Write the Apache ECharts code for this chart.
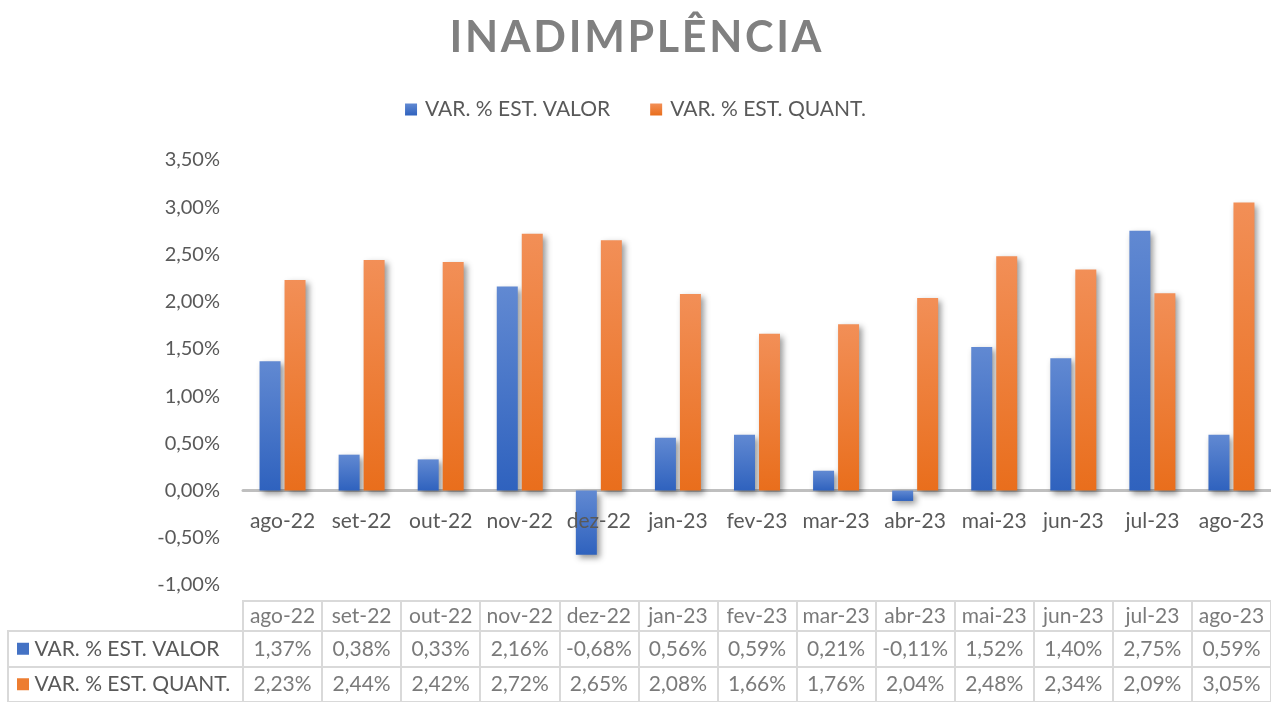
<!DOCTYPE html>
<html>
<head>
<meta charset="utf-8">
<script src="https://cdn.jsdelivr.net/npm/echarts@6/dist/echarts.min.js"></script>
<style>html,body{margin:0;padding:0;background:#fff}#c{width:1271px;height:702px}</style>
</head>
<body>
<div id="c"></div>
<script>
const categories = ['ago-22','set-22','out-22','nov-22','dez-22','jan-23','fev-23','mar-23','abr-23','mai-23','jun-23','jul-23','ago-23'];
const valorName = 'VAR. % EST. VALOR';
const quantName = 'VAR. % EST. QUANT.';
const valorValues = [1.37, 0.38, 0.33, 2.16, -0.68, 0.56, 0.59, 0.21, -0.11, 1.52, 1.40, 2.75, 0.59];
const quantValues = [2.23, 2.44, 2.42, 2.72, 2.65, 2.08, 1.66, 1.76, 2.04, 2.48, 2.34, 2.09, 3.05];
const yMin = -1, yMax = 3.5, yInterval = 0.5;

const FONT = 'Lato';
const TXT = '#595959';
const BORDER = '#D9D9D9';
const fmt = v => v.toFixed(2).replace('.', ',') + '%';
const title = 'INADIMPLÊNCIA'.split('').join('\u200A');

const blueGrad = new echarts.graphic.LinearGradient(0,0,0,1,[{offset:0,color:'#6189D2'},{offset:1,color:'#2F62BE'}]);
const orangeGrad = new echarts.graphic.LinearGradient(0,0,0,1,[{offset:0,color:'#F28F57'},{offset:1,color:'#E96E1C'}]);
const shadow = {shadowColor:'rgba(0,0,0,0.4)', shadowBlur:6, shadowOffsetX:3, shadowOffsetY:3};

const gridTop = 160, gridH = 425;
const zeroFromBottom = gridH * (0 - yMin) / (yMax - yMin);

const chart = echarts.init(document.getElementById('c'));
const hiddenVal = (gi) => ({type:'value', gridIndex:gi, show:false, min:0, max:1});

chart.setOption({
  animation:false,
  backgroundColor:'#fff',
  title:{text:title, left:'center', top:12, textStyle:{fontFamily:FONT, fontWeight:'bold', fontSize:43, color:'#808080'}},
  legend:{data:[valorName, quantName], top:94, left:'center', itemWidth:12, itemHeight:12, itemGap:40,
    textStyle:{fontFamily:FONT, fontSize:21, color:TXT, padding:[0,0,0,3]}, icon:'rect'},
  grid:[
    {left:243, right:0, top:gridTop, height:gridH},
    {left:243, right:0, top:601, height:30, show:true, borderColor:BORDER, borderWidth:2},
    {left:243, right:0, top:631, height:74, show:true, borderColor:BORDER, borderWidth:2},
    {left:8, width:235, top:631, height:74, show:true, borderColor:BORDER, borderWidth:2}
  ],
  xAxis:[
    {type:'category', gridIndex:0, data:categories, axisTick:{show:false},
      axisLine:{onZero:true, lineStyle:{color:'#BFBFBF', width:3}},
      axisLabel:{show:false}},
    {type:'category', gridIndex:1, data:categories, axisTick:{show:false}, axisLine:{show:false}, axisLabel:{show:false},
      splitLine:{show:true, interval:0, lineStyle:{color:BORDER, width:2}}},
    {type:'category', gridIndex:2, data:categories, axisTick:{show:false}, axisLine:{show:false}, axisLabel:{show:false},
      splitLine:{show:true, interval:0, lineStyle:{color:BORDER, width:2}}},
    hiddenVal(3),
    {type:'category', gridIndex:0, data:categories, position:'bottom', offset:-zeroFromBottom, z:5,
      axisTick:{show:false}, axisLine:{show:false, onZero:false},
      axisLabel:{interval:0, margin:20, fontFamily:FONT, fontSize:21, color:TXT}}
  ],
  yAxis:[
    {type:'value', gridIndex:0, min:yMin, max:yMax, interval:yInterval, splitLine:{show:false},
      axisLine:{show:false}, axisTick:{show:false},
      axisLabel:{margin:23, fontFamily:FONT, fontSize:20, color:TXT, formatter:fmt}},
    {type:'category', gridIndex:1, data:['h'], show:false},
    {type:'category', gridIndex:2, data:[valorName, quantName], inverse:true, axisLine:{show:false}, axisTick:{show:false},
      axisLabel:{show:false}, splitLine:{show:true, interval:0, lineStyle:{color:BORDER, width:2}}},
    {type:'category', gridIndex:3, data:[valorName, quantName], inverse:true, axisLine:{show:false}, axisTick:{show:false},
      splitLine:{show:true, interval:0, lineStyle:{color:BORDER, width:2}},
      axisLabel:{inside:true, margin:9, fontFamily:FONT, fontSize:21, color:TXT,
        formatter:(v,i)=>(i===0?'{b|}':'{o|}')+' '+v,
        rich:{b:{width:12,height:12,backgroundColor:'#4472C4'}, o:{width:12,height:12,backgroundColor:'#ED7D31'}}}}
  ],
  series:[
    {name:valorName, type:'bar', xAxisIndex:0, yAxisIndex:0, data:valorValues, barWidth:21, barGap:'19%',
      itemStyle:Object.assign({color:blueGrad}, shadow)},
    {name:quantName, type:'bar', xAxisIndex:0, yAxisIndex:0, data:quantValues, barWidth:21, barGap:'19%',
      itemStyle:Object.assign({color:orangeGrad}, shadow)},
    {type:'scatter', xAxisIndex:1, yAxisIndex:1, silent:true, symbolSize:1, itemStyle:{color:'rgba(0,0,0,0)'},
      data:categories.map((c,i)=>[i,0]),
      label:{show:true, position:'inside', fontFamily:FONT, fontSize:21, color:TXT, textBorderWidth:0, formatter:p=>categories[p.dataIndex]}},
    {type:'scatter', xAxisIndex:2, yAxisIndex:2, silent:true, symbolSize:1, itemStyle:{color:'rgba(0,0,0,0)'},
      data:valorValues.map((v,i)=>[i,0]),
      label:{show:true, position:'inside', fontFamily:FONT, fontSize:21, color:TXT, textBorderWidth:0, formatter:p=>fmt(valorValues[p.dataIndex])}},
    {type:'scatter', xAxisIndex:2, yAxisIndex:2, silent:true, symbolSize:1, itemStyle:{color:'rgba(0,0,0,0)'},
      data:quantValues.map((v,i)=>[i,1]),
      label:{show:true, position:'inside', fontFamily:FONT, fontSize:21, color:TXT, textBorderWidth:0, formatter:p=>fmt(quantValues[p.dataIndex])}}
  ]
});
</script>
</body>
</html>
